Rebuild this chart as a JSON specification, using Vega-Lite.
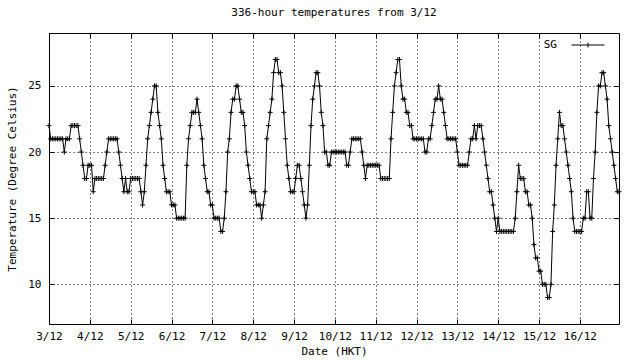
{
"$schema": "https://vega.github.io/schema/vega-lite/v6.json",
"width": 570, "height": 291,
"autosize": {"type": "none"},
"padding": {"left": 49, "top": 33, "right": 21, "bottom": 36},
"background": "white",
"title": {"text": "336-hour temperatures from 3/12", "font": "DejaVu Sans Mono", "fontSize": 11, "fontWeight": "normal", "color": "#000", "anchor": "middle", "offset": 10},
"data": {"values": [
{"h":0,"t":22},{"h":1,"t":21},{"h":2,"t":21},{"h":3,"t":21},{"h":4,"t":21},{"h":5,"t":21},{"h":6,"t":21},{"h":7,"t":21},{"h":8,"t":21},{"h":9,"t":20},
{"h":10,"t":21},{"h":11,"t":21},{"h":12,"t":21},{"h":13,"t":22},{"h":14,"t":22},{"h":15,"t":22},{"h":16,"t":22},{"h":17,"t":22},{"h":18,"t":21},{"h":19,"t":20},
{"h":20,"t":19},{"h":21,"t":18},{"h":22,"t":18},{"h":23,"t":19},{"h":24,"t":19},{"h":25,"t":19},{"h":26,"t":17},{"h":27,"t":18},{"h":28,"t":18},{"h":29,"t":18},
{"h":30,"t":18},{"h":31,"t":18},{"h":32,"t":18},{"h":33,"t":19},{"h":34,"t":20},{"h":35,"t":21},{"h":36,"t":21},{"h":37,"t":21},{"h":38,"t":21},{"h":39,"t":21},
{"h":40,"t":21},{"h":41,"t":20},{"h":42,"t":19},{"h":43,"t":18},{"h":44,"t":17},{"h":45,"t":18},{"h":46,"t":17},{"h":47,"t":17},{"h":48,"t":18},{"h":49,"t":18},
{"h":50,"t":18},{"h":51,"t":18},{"h":52,"t":18},{"h":53,"t":18},{"h":54,"t":17},{"h":55,"t":16},{"h":56,"t":17},{"h":57,"t":19},{"h":58,"t":21},{"h":59,"t":22},
{"h":60,"t":23},{"h":61,"t":24},{"h":62,"t":25},{"h":63,"t":25},{"h":64,"t":23},{"h":65,"t":22},{"h":66,"t":21},{"h":67,"t":19},{"h":68,"t":18},{"h":69,"t":17},
{"h":70,"t":17},{"h":71,"t":17},{"h":72,"t":16},{"h":73,"t":16},{"h":74,"t":16},{"h":75,"t":15},{"h":76,"t":15},{"h":77,"t":15},{"h":78,"t":15},{"h":79,"t":15},
{"h":80,"t":15},{"h":81,"t":19},{"h":82,"t":21},{"h":83,"t":22},{"h":84,"t":23},{"h":85,"t":23},{"h":86,"t":23},{"h":87,"t":24},{"h":88,"t":23},{"h":89,"t":22},
{"h":90,"t":21},{"h":91,"t":19},{"h":92,"t":18},{"h":93,"t":17},{"h":94,"t":17},{"h":95,"t":16},{"h":96,"t":16},{"h":97,"t":15},{"h":98,"t":15},{"h":99,"t":15},
{"h":100,"t":15},{"h":101,"t":14},{"h":102,"t":14},{"h":103,"t":15},{"h":104,"t":17},{"h":105,"t":20},{"h":106,"t":21},{"h":107,"t":23},{"h":108,"t":24},{"h":109,"t":24},
{"h":110,"t":25},{"h":111,"t":25},{"h":112,"t":24},{"h":113,"t":23},{"h":114,"t":23},{"h":115,"t":22},{"h":116,"t":20},{"h":117,"t":19},{"h":118,"t":18},{"h":119,"t":17},
{"h":120,"t":17},{"h":121,"t":17},{"h":122,"t":16},{"h":123,"t":16},{"h":124,"t":16},{"h":125,"t":15},{"h":126,"t":16},{"h":127,"t":17},{"h":128,"t":21},{"h":129,"t":22},
{"h":130,"t":23},{"h":131,"t":24},{"h":132,"t":26},{"h":133,"t":27},{"h":134,"t":27},{"h":135,"t":26},{"h":136,"t":26},{"h":137,"t":25},{"h":138,"t":23},{"h":139,"t":21},
{"h":140,"t":19},{"h":141,"t":18},{"h":142,"t":17},{"h":143,"t":17},{"h":144,"t":17},{"h":145,"t":18},{"h":146,"t":19},{"h":147,"t":19},{"h":148,"t":18},{"h":149,"t":17},
{"h":150,"t":16},{"h":151,"t":15},{"h":152,"t":16},{"h":153,"t":19},{"h":154,"t":22},{"h":155,"t":24},{"h":156,"t":25},{"h":157,"t":26},{"h":158,"t":26},{"h":159,"t":25},
{"h":160,"t":23},{"h":161,"t":22},{"h":162,"t":20},{"h":163,"t":20},{"h":164,"t":19},{"h":165,"t":19},{"h":166,"t":20},{"h":167,"t":20},{"h":168,"t":20},{"h":169,"t":20},
{"h":170,"t":20},{"h":171,"t":20},{"h":172,"t":20},{"h":173,"t":20},{"h":174,"t":20},{"h":175,"t":19},{"h":176,"t":19},{"h":177,"t":20},{"h":178,"t":21},{"h":179,"t":21},
{"h":180,"t":21},{"h":181,"t":21},{"h":182,"t":21},{"h":183,"t":21},{"h":184,"t":20},{"h":185,"t":19},{"h":186,"t":18},{"h":187,"t":19},{"h":188,"t":19},{"h":189,"t":19},
{"h":190,"t":19},{"h":191,"t":19},{"h":192,"t":19},{"h":193,"t":19},{"h":194,"t":19},{"h":195,"t":18},{"h":196,"t":18},{"h":197,"t":18},{"h":198,"t":18},{"h":199,"t":18},
{"h":200,"t":18},{"h":201,"t":21},{"h":202,"t":23},{"h":203,"t":25},{"h":204,"t":26},{"h":205,"t":27},{"h":206,"t":27},{"h":207,"t":25},{"h":208,"t":24},{"h":209,"t":24},
{"h":210,"t":23},{"h":211,"t":23},{"h":212,"t":22},{"h":213,"t":22},{"h":214,"t":21},{"h":215,"t":21},{"h":216,"t":21},{"h":217,"t":21},{"h":218,"t":21},{"h":219,"t":21},
{"h":220,"t":21},{"h":221,"t":20},{"h":222,"t":20},{"h":223,"t":21},{"h":224,"t":21},{"h":225,"t":22},{"h":226,"t":23},{"h":227,"t":24},{"h":228,"t":24},{"h":229,"t":25},
{"h":230,"t":24},{"h":231,"t":24},{"h":232,"t":23},{"h":233,"t":22},{"h":234,"t":21},{"h":235,"t":21},{"h":236,"t":21},{"h":237,"t":21},{"h":238,"t":21},{"h":239,"t":21},
{"h":240,"t":20},{"h":241,"t":19},{"h":242,"t":19},{"h":243,"t":19},{"h":244,"t":19},{"h":245,"t":19},{"h":246,"t":19},{"h":247,"t":20},{"h":248,"t":21},{"h":249,"t":21},
{"h":250,"t":22},{"h":251,"t":21},{"h":252,"t":22},{"h":253,"t":22},{"h":254,"t":22},{"h":255,"t":21},{"h":256,"t":20},{"h":257,"t":19},{"h":258,"t":18},{"h":259,"t":17},
{"h":260,"t":17},{"h":261,"t":16},{"h":262,"t":15},{"h":263,"t":14},{"h":264,"t":15},{"h":265,"t":14},{"h":266,"t":14},{"h":267,"t":14},{"h":268,"t":14},{"h":269,"t":14},
{"h":270,"t":14},{"h":271,"t":14},{"h":272,"t":14},{"h":273,"t":14},{"h":274,"t":15},{"h":275,"t":17},{"h":276,"t":19},{"h":277,"t":18},{"h":278,"t":18},{"h":279,"t":18},
{"h":280,"t":17},{"h":281,"t":17},{"h":282,"t":16},{"h":283,"t":16},{"h":284,"t":15},{"h":285,"t":13},{"h":286,"t":12},{"h":287,"t":12},{"h":288,"t":11},{"h":289,"t":11},
{"h":290,"t":10},{"h":291,"t":10},{"h":292,"t":10},{"h":293,"t":9},{"h":294,"t":9},{"h":295,"t":10},{"h":296,"t":14},{"h":297,"t":16},{"h":298,"t":19},{"h":299,"t":21},
{"h":300,"t":23},{"h":301,"t":22},{"h":302,"t":22},{"h":303,"t":21},{"h":304,"t":20},{"h":305,"t":19},{"h":306,"t":18},{"h":307,"t":17},{"h":308,"t":15},{"h":309,"t":14},
{"h":310,"t":14},{"h":311,"t":14},{"h":312,"t":14},{"h":313,"t":14},{"h":314,"t":15},{"h":315,"t":15},{"h":316,"t":17},{"h":317,"t":17},{"h":318,"t":15},{"h":319,"t":15},
{"h":320,"t":18},{"h":321,"t":20},{"h":322,"t":23},{"h":323,"t":25},{"h":324,"t":25},{"h":325,"t":26},{"h":326,"t":26},{"h":327,"t":25},{"h":328,"t":24},{"h":329,"t":22},
{"h":330,"t":21},{"h":331,"t":20},{"h":332,"t":19},{"h":333,"t":18},{"h":334,"t":17},{"h":335,"t":17}
]},
"layer": [
{"mark": {"type": "line", "color": "#000", "strokeWidth": 1},
 "encoding": {
  "x": {"field": "h", "type": "quantitative", "scale": {"domain": [0, 335], "nice": false, "zero": false},
        "axis": {"orient": "bottom", "values": [0,24,48,72,96,120,144,168,192,216,240,264,288,312], "labelExpr": "(datum.value/24+3)+'/12'", "labelFlush": false, "labelOverlap": false, "labelBound": false, "title": "Date (HKT)", "grid": true, "labelPadding": 11, "titlePadding": 4}},
  "y": {"field": "t", "type": "quantitative", "scale": {"domain": [7, 29], "nice": false, "zero": false},
        "axis": {"orient": "left", "values": [10,15,20,25], "labelFlush": false, "labelOverlap": false, "title": "Temperature (Degree Celsius)", "grid": true, "labelPadding": 13, "titlePadding": 10}},
  "color": {"datum": "SG", "scale": {"range": ["#000"]},
        "legend": {"orient": "none", "legendX": 522, "legendY": -5, "title": null, "symbolType": "M-1,0H1M0,-0.15V0.15", "symbolSize": 1089, "symbolStrokeWidth": 1, "symbolStrokeColor": "#000", "labelFont": "DejaVu Sans Mono", "labelFontSize": 11, "labelColor": "#000", "labelAlign": "right", "labelOffset": -48, "padding": 0}}
 }},
{"mark": {"type": "point", "shape": "M-1,0H1M0,-1V1", "size": 25, "filled": false, "color": "#000", "strokeWidth": 1, "opacity": 1},
 "encoding": {
  "x": {"field": "h", "type": "quantitative", "axis": {"orient": "top", "values": [0,24,48,72,96,120,144,168,192,216,240,264,288,312], "labels": false, "title": null, "grid": false}},
  "y": {"field": "t", "type": "quantitative", "axis": {"orient": "right", "values": [10,15,20,25], "labels": false, "title": null, "grid": false}}
 }}
],
"resolve": {"axis": {"x": "independent", "y": "independent"}},
"config": {
  "view": {"stroke": "#000", "strokeWidth": 1},
  "axis": {"domain": false, "tickColor": "#000", "tickSize": -5, "tickWidth": 1,
           "labelFont": "DejaVu Sans Mono", "labelFontSize": 11, "labelColor": "#000",
           "titleFont": "DejaVu Sans Mono", "titleFontSize": 11, "titleFontWeight": "normal", "titleColor": "#000",
           "gridColor": "#000", "gridDash": [1, 3], "gridOpacity": 1, "gridWidth": 1}
}
}
